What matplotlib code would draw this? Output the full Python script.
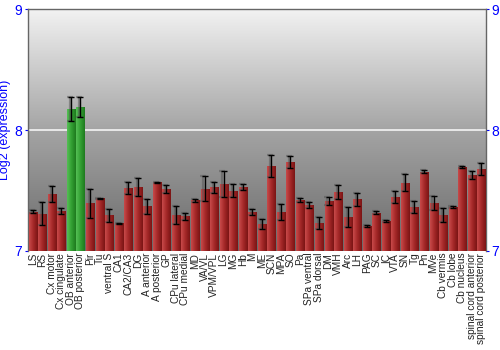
import numpy as np
import matplotlib
matplotlib.use("Agg")
import matplotlib.pyplot as plt
from matplotlib.colors import LinearSegmentedColormap

plt.rcParams["font.family"] = ["Liberation Sans", "DejaVu Sans"]

# Data
regions = ["LS", "RS", "Cx motor", "Cx cingulate", "OB anterior", "OB posterior",
           "Pir", "Tu", "ventral S", "CA1", "CA2/CA3", "DG", "A anterior",
           "A posterior", "GP", "CPu lateral", "CPu medial", "MD", "VA/VL",
           "VPM/VPL", "LG", "MG", "Hb", "M", "ME", "SCN", "MPA", "SO", "Pa",
           "SPa ventral", "SPa dorsal", "DM", "VMH", "Arc", "LH", "PAG", "SC",
           "IC", "VTA", "SN", "Tg", "Pn", "MVe", "Cb vermis", "Cb lobe",
           "Cb nucleus", "spinal cord anterior", "spinal cord posterior"]
values = [7.323, 7.307, 7.467, 7.329, 8.174, 8.190, 7.392, 7.434, 7.293, 7.227,
          7.519, 7.528, 7.367, 7.566, 7.511, 7.296, 7.285, 7.417, 7.514, 7.525,
          7.550, 7.497, 7.528, 7.323, 7.221, 7.704, 7.320, 7.735, 7.420, 7.378,
          7.227, 7.412, 7.486, 7.279, 7.425, 7.207, 7.315, 7.246, 7.445, 7.564,
          7.362, 7.655, 7.395, 7.293, 7.362, 7.696, 7.627, 7.677]
errors = [0.013, 0.097, 0.068, 0.028, 0.100, 0.083, 0.119, 0.006, 0.052, 0.006,
          0.052, 0.075, 0.064, 0.006, 0.037, 0.072, 0.029, 0.014, 0.106, 0.047,
          0.108, 0.054, 0.022, 0.025, 0.044, 0.093, 0.064, 0.046, 0.014, 0.022,
          0.050, 0.030, 0.057, 0.080, 0.055, 0.008, 0.014, 0.010, 0.051, 0.069,
          0.048, 0.011, 0.055, 0.058, 0.006, 0.007, 0.030, 0.047]
highlighted = ["OB anterior", "OB posterior"]

fig = plt.figure(figsize=(5, 3.5), dpi=100)
ax = fig.add_axes([0.056, 0.284, 0.916, 0.689])

n = len(regions)
x = np.arange(n)
ax.set_xlim(-0.5, n - 0.5)
ax.set_ylim(7, 9)

# background gradient
bg = LinearSegmentedColormap.from_list("bg", ["#6a6a6a", "#a4a4a4", "#f2f2f2"])
grad = np.linspace(0, 1, 256).reshape(-1, 1)
ax.imshow(grad, cmap=bg, aspect="auto", origin="lower",
          extent=[-0.5, n - 0.5, 7, 9], zorder=0)
ax.axhline(8, color="#f4f4f4", lw=1.2, zorder=1)

red_cm = LinearSegmentedColormap.from_list("red", ["#c84a4a", "#a42828", "#7a1414"])
green_cm = LinearSegmentedColormap.from_list("green", ["#55c055", "#33a033", "#1e7a1e"])
hgrad = np.linspace(0, 1, 64).reshape(1, -1)

w = 0.84
for i, (v, e) in enumerate(zip(values, errors)):
    cm = green_cm if regions[i] in highlighted else red_cm
    # shadow
    ax.bar(i + 0.08, v - 7, bottom=7, width=w, color="#000000", alpha=0.18,
           lw=0, zorder=2)
    bar = ax.bar(i, v - 7, bottom=7, width=w, color="none", lw=0, zorder=3)[0]
    im = ax.imshow(hgrad, cmap=cm, aspect="auto",
                   extent=[i - w / 2, i + w / 2, 7, v], zorder=3)
    im.set_clip_path(bar)
    # error bar shadow and error bar
    ax.errorbar(i - 0.12, v, yerr=e, fmt="none", ecolor="#555555", alpha=0.5,
                elinewidth=1.6, capsize=2.5, capthick=1.6, zorder=4)
    ax.errorbar(i, v, yerr=e, fmt="none", ecolor="black", elinewidth=1,
                capsize=2.5, capthick=1, zorder=5)

ax.set_xticks(x)
ax.set_xticklabels(regions, rotation=90, fontsize=7.3, color="#222222")
ax.tick_params(axis="x", length=0, pad=1.5)

ax.set_yticks([7, 8, 9])
ax.tick_params(axis="y", colors="#0000ff", labelsize=10, length=2, pad=2,
               left=True, right=True, labelleft=True, labelright=True)
for t in ax.get_yticklabels():
    t.set_color("#0000ff")
ax.set_ylabel("Log2 (expression)", color="#0000ff", fontsize=9, labelpad=3)

for s in ["left", "right", "top", "bottom"]:
    ax.spines[s].set_color("#666666")
    ax.spines[s].set_linewidth(1)
ax.spines["bottom"].set_visible(False)

fig.savefig("out.png", dpi=100)
